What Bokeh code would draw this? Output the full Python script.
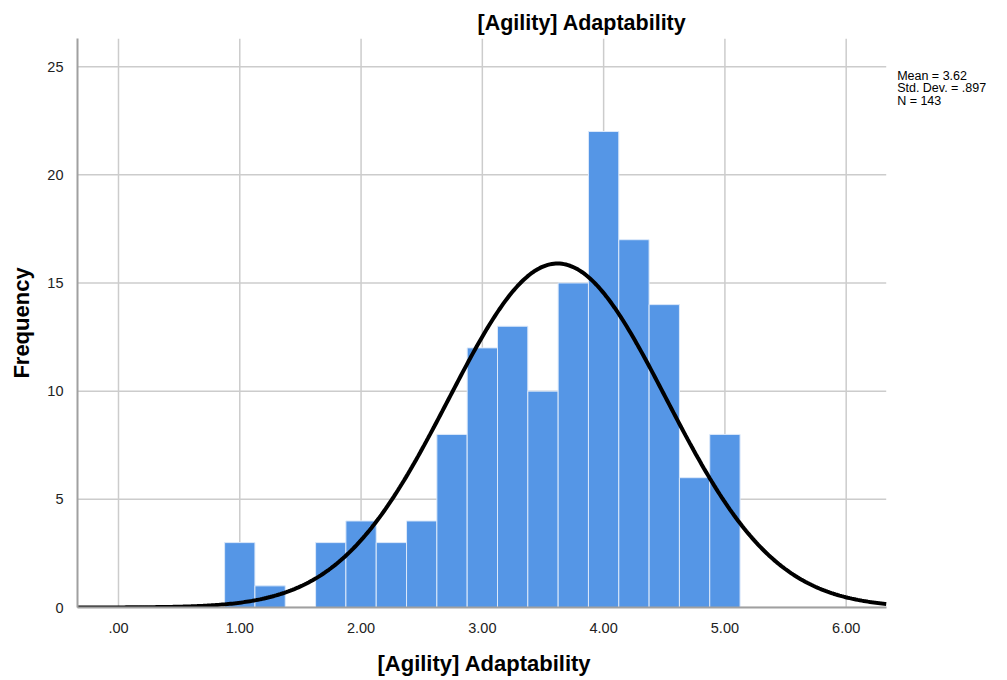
import numpy as np
from bokeh.plotting import figure
from bokeh.models import Range1d, FixedTicker, Label
from bokeh.embed import file_html
from bokeh.resources import INLINE

# Data
bin_centers = [1.00, 1.25, 1.50, 1.75, 2.00, 2.25, 2.50, 2.75, 3.00, 3.25, 3.50, 3.75, 4.00, 4.25, 4.50, 4.75, 5.00]
frequencies = [3, 1, 0, 3, 4, 3, 4, 8, 12, 13, 10, 15, 22, 17, 14, 6, 8]
bin_width = 0.25
mean_val = 3.62
sd_val = 0.897
n_val = 143
x_ticks = [0, 1, 2, 3, 4, 5, 6]
x_tick_labels = [".00", "1.00", "2.00", "3.00", "4.00", "5.00", "6.00"]
y_ticks = [0, 5, 10, 15, 20, 25]
title_text = "[Agility] Adaptability"
x_label = "[Agility] Adaptability"
y_label = "Frequency"
stats_lines = ["Mean = 3.62", "Std. Dev. = .897", "N = 143"]

FONT = "Liberation Sans"

# Visible plotting area spans x in [X_MIN, X_MAX]; the frame continues to the right
# to leave room for the statistics text.
X_MIN, X_MAX, X_FRAME_MAX = -0.338, 6.33, 7.33
Y_MAX = 26.3

p = figure(width=1007, height=680, output_backend="svg", toolbar_location=None,
           x_range=Range1d(X_MIN, X_FRAME_MAX), y_range=Range1d(0, Y_MAX),
           min_border_left=77, min_border_right=0, min_border_top=38, min_border_bottom=73)
p.outline_line_color = None
p.background_fill_color = "white"
p.xgrid.visible = False
p.ygrid.visible = False

GRID = "#cccccc"
# Grid lines limited to the plotting area
p.segment(x0=x_ticks, x1=x_ticks, y0=[0] * len(x_ticks), y1=[Y_MAX] * len(x_ticks),
          line_color=GRID, line_width=1.5)
p.segment(x0=[X_MIN] * len(y_ticks), x1=[X_MAX] * len(y_ticks), y0=y_ticks, y1=y_ticks,
          line_color=GRID, line_width=1.5)

# Bars
bars = [(c, f) for c, f in zip(bin_centers, frequencies) if f > 0]
p.vbar(x=[b[0] for b in bars], top=[b[1] for b in bars], width=bin_width, bottom=0,
       fill_color="#5596E6", line_color="#dce9fa", line_width=1)

# Normal curve from stated parameters
xs = np.linspace(X_MIN, X_MAX, 400)
ys = n_val * bin_width / (sd_val * np.sqrt(2 * np.pi)) * np.exp(-0.5 * ((xs - mean_val) / sd_val) ** 2)
p.line(xs, ys, line_color="black", line_width=4)

# Axes
p.xaxis.ticker = FixedTicker(ticks=x_ticks)
p.xaxis.major_label_overrides = {t: l for t, l in zip(x_ticks, x_tick_labels)}
p.xaxis.bounds = (X_MIN, X_MAX)
p.yaxis.ticker = FixedTicker(ticks=y_ticks)
for ax in (p.xaxis[0], p.yaxis[0]):
    ax.major_tick_line_color = None
    ax.minor_tick_line_color = None
    ax.axis_line_color = "#a0a0a0"
    ax.axis_line_width = 2
    ax.major_label_text_font = FONT
    ax.major_label_text_font_size = "14.5px"
    ax.major_label_text_color = "#222222"
    ax.axis_label_text_font = FONT
    ax.axis_label_text_font_style = "bold"
    ax.axis_label_text_font_size = "22px"
    ax.axis_label_text_color = "black"
p.xaxis.major_label_standoff = 9
p.yaxis.major_label_standoff = 8
# trailing non-breaking spaces shift the centred label under the visible plotting area
p.xaxis.axis_label = x_label + "\u00a0" * 19
p.yaxis.axis_label = y_label
p.xaxis.axis_label_standoff = 15
p.yaxis.axis_label_standoff = 10

# Title
p.title.text = title_text
p.title.align = "left"
p.title.offset = 400
p.title.standoff = 8
p.title.text_font = FONT
p.title.text_font_style = "bold"
p.title.text_font_size = "21.5px"
p.title.text_color = "black"

# Statistics text
STATS_X = 6.42
STATS_Y0 = 24.58
STATS_STEP = 0.575
for i, s in enumerate(stats_lines):
    p.add_layout(Label(x=STATS_X, y=STATS_Y0 - i * STATS_STEP, text=s,
                       text_font=FONT, text_font_size="12.5px", text_color="black",
                       text_baseline="middle", text_align="left"))

open("out.html", "w").write(file_html(p, INLINE))
